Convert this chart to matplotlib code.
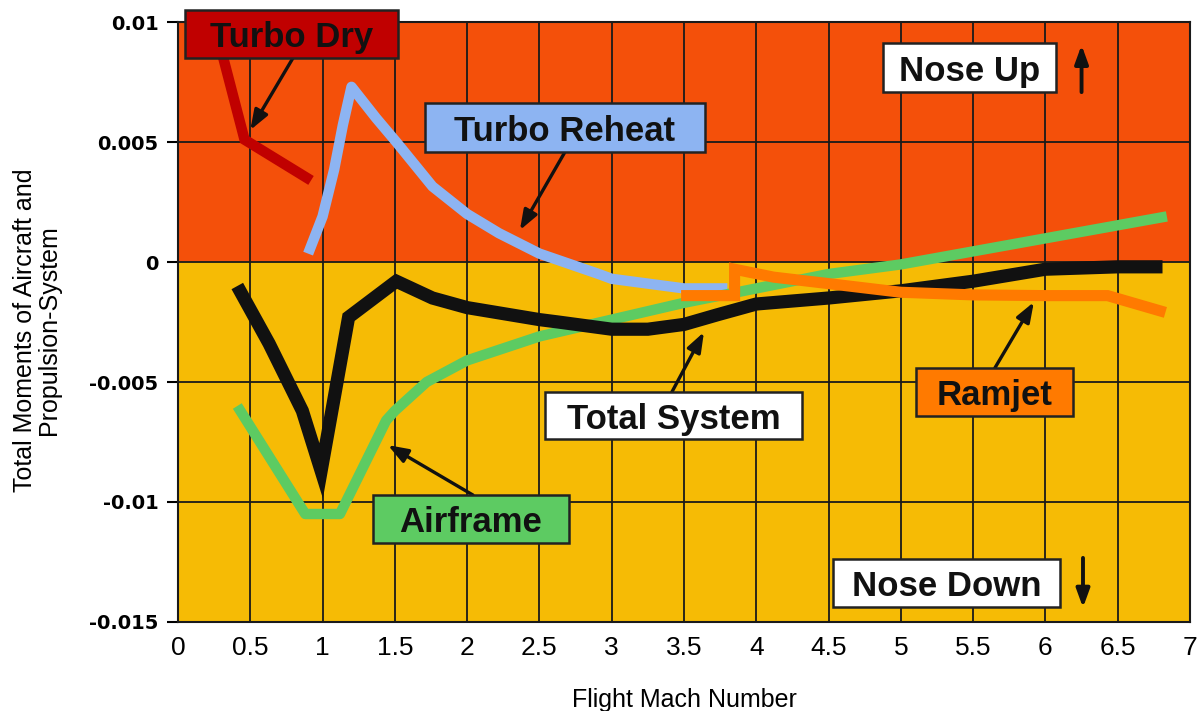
import matplotlib
matplotlib.use("Agg")
import matplotlib.pyplot as plt
from matplotlib.patches import Rectangle

# ---------------- data ----------------
turbo_dry_x = [0.27, 0.46, 0.92]
turbo_dry_y = [0.0095, 0.0051, 0.0034]

turbo_reheat_x = [0.90, 1.00, 1.08, 1.14, 1.20, 1.37, 1.51, 1.76, 2.00, 2.22, 2.50, 2.91, 3.00, 3.50, 3.80]
turbo_reheat_y = [0.00035, 0.0019, 0.00385, 0.0057, 0.0073, 0.0060, 0.0050, 0.00315, 0.0020, 0.0012, 0.00035,
                  -0.0005, -0.0007, -0.0011, -0.0011]

airframe_x = [0.41, 0.88, 1.12, 1.44, 1.50, 1.72, 2.00, 2.50, 3.00, 3.50, 4.00, 4.50, 5.00, 6.84]
airframe_y = [-0.0060, -0.0105, -0.0105, -0.0066, -0.0062, -0.0050, -0.0041, -0.0031, -0.0024, -0.0017,
              -0.0011, -0.0005, -0.0001, 0.0019]

total_x = [0.41, 0.63, 0.86, 0.99, 1.18, 1.51, 1.76, 2.00, 2.50, 2.63, 3.00, 3.25, 3.50, 3.73, 4.00, 4.50,
           5.00, 5.50, 6.00, 6.50, 6.81]
total_y = [-0.0010, -0.0034, -0.0062, -0.0087, -0.0023, -0.0008, -0.0015, -0.0019, -0.0024, -0.0025, -0.0028,
           -0.0028, -0.0026, -0.0022, -0.00175, -0.0015, -0.0012, -0.0008, -0.0003, -0.0002, -0.0002]

ramjet_x = [3.48, 3.85, 3.85, 4.12, 4.50, 5.00, 5.50, 6.00, 6.43, 6.83]
ramjet_y = [-0.0014, -0.0014, -0.0003, -0.00063, -0.0009, -0.00126, -0.00137, -0.0014, -0.0014, -0.0021]

x_ticks = [0, 0.5, 1, 1.5, 2, 2.5, 3, 3.5, 4, 4.5, 5, 5.5, 6, 6.5, 7]
x_tick_labels = ["0", "0.5", "1", "1.5", "2", "2.5", "3", "3.5", "4", "4.5", "5", "5.5", "6", "6.5", "7"]
y_ticks = [0.01, 0.005, 0, -0.005, -0.01, -0.015]
y_tick_labels = ["0.01", "0.005", "0", "-0.005", "-0.01", "-0.015"]

# ---------------- style ----------------
FAM = ["Liberation Sans", "DejaVu Sans"]

C_TOP = "#F4500A"
C_BOT = "#F6BB05"
C_DRY = "#C00000"
C_REHEAT = "#8DB4F2"
C_AIR = "#5DCB62"
C_TOTAL = "#111111"
C_RAM = "#FF7A00"

fig = plt.figure(figsize=(11.98, 7.11), dpi=100)
ax = fig.add_axes([0.1486, 0.1252, 0.8447, 0.8438])
ax.set_xlim(0, 7)
ax.set_ylim(-0.015, 0.01)

ax.axhspan(0, 0.01, color=C_TOP, zorder=0)
ax.axhspan(-0.015, 0, color=C_BOT, zorder=0)
for xv in x_ticks:
    ax.axvline(xv, color="#1a1a1a", lw=1.3, zorder=1)
for yv in y_ticks:
    ax.axhline(yv, color="#1a1a1a", lw=1.3, zorder=1)
for s in ax.spines.values():
    s.set_color("#1a1a1a")
    s.set_linewidth(1.5)

lw = 7.5
ax.plot(turbo_dry_x, turbo_dry_y, color=C_DRY, lw=lw, solid_capstyle="butt", solid_joinstyle="miter", zorder=3)
ax.plot(turbo_reheat_x, turbo_reheat_y, color=C_REHEAT, lw=lw, solid_capstyle="butt", solid_joinstyle="round", zorder=3)
ax.plot(airframe_x, airframe_y, color=C_AIR, lw=lw, solid_capstyle="butt", solid_joinstyle="round", zorder=3)
ax.plot(total_x, total_y, color=C_TOTAL, lw=9.5, solid_capstyle="butt", solid_joinstyle="miter", zorder=4)
ax.plot(ramjet_x, ramjet_y, color=C_RAM, lw=8, solid_capstyle="butt", solid_joinstyle="miter", zorder=5)

ax.set_xticks(x_ticks)
ax.set_xticklabels(x_tick_labels, family=FAM, fontsize=19)
ax.set_yticks(y_ticks)
ax.set_yticklabels(y_tick_labels, family=["DejaVu Sans"], fontsize=14, fontweight="bold")
ax.tick_params(axis="x", length=0, pad=10)
ax.tick_params(axis="y", length=8, width=1.5, pad=6, direction="out")

ax.set_xlabel("Flight Mach Number", family=FAM, fontsize=18, labelpad=20)
fig.text(37 / 1198, 1 - 330 / 711, "Total Moments of Aircraft and\nPropulsion-System", family=FAM,
         fontsize=18, rotation=90, ha="center", va="center", linespacing=1.0)


def box(text, x0, x1, y0, y1, fc):
    r = Rectangle((x0, y0), x1 - x0, y1 - y0, fc=fc, ec="#222222", lw=1.8, zorder=10, clip_on=False)
    ax.add_patch(r)
    ax.text((x0 + x1) / 2, (y0 + y1) / 2, text, ha="center", va="center_baseline", family=FAM, fontsize=25,
            fontweight="bold", color="#111111", zorder=11, clip_on=False)


def arrow(start, end, hl=0.6, hw=0.22, lw=2.4):
    ax.annotate("", xy=end, xytext=start, annotation_clip=False, zorder=9,
                arrowprops=dict(arrowstyle=f"-|>,head_length={hl},head_width={hw}", color="#111111", lw=lw,
                                mutation_scale=20, shrinkA=0, shrinkB=0))


box("Turbo Dry", 0.048, 1.521, 0.0085, 0.0105, C_DRY)
arrow((0.795, 0.0085), (0.50, 0.0055))
box("Turbo Reheat", 1.708, 3.645, 0.00458, 0.00663, C_REHEAT)
arrow((2.676, 0.00458), (2.365, 0.00133))
box("Nose Up", 4.876, 6.072, 0.00708, 0.00912, "white")
arrow((6.25, 0.00708), (6.25, 0.00904), hl=0.55, hw=0.2, lw=2.8)
box("Total System", 2.538, 4.315, -0.00738, -0.00542, "white")
arrow((3.416, -0.00542), (3.638, -0.00292))
box("Ramjet", 5.104, 6.190, -0.00642, -0.00442, C_RAM)
arrow((5.650, -0.00442), (5.920, -0.00167))
box("Airframe", 1.348, 2.704, -0.01171, -0.00971, C_AIR)
arrow((2.040, -0.00971), (1.452, -0.00763))
box("Nose Down", 4.530, 6.100, -0.01438, -0.01238, "white")
arrow((6.26, -0.01233), (6.26, -0.0144), hl=0.55, hw=0.2, lw=2.8)

fig.savefig("out.png", dpi=100, facecolor="white")
